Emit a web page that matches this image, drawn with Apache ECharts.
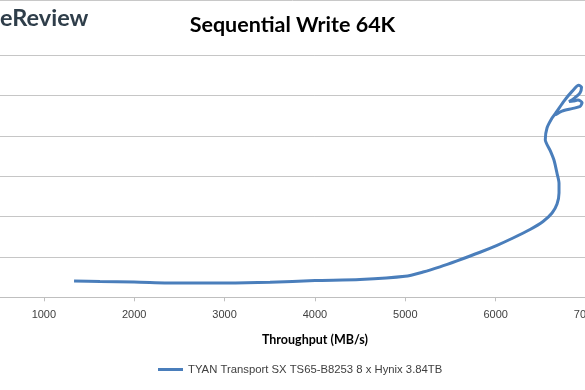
<!DOCTYPE html>
<html>
<head>
<meta charset="utf-8">
<script src="https://cdn.jsdelivr.net/npm/echarts@6/dist/echarts.min.js"></script>
<style>
html,body{margin:0;padding:0;background:#fff;overflow:hidden;width:585px;height:390px;}
#c{position:absolute;left:-100px;top:0;width:800px;height:390px;}
</style>
</head>
<body>
<div id="c"></div>
<script>
// Data (y labels are cropped in the reference)
const seriesName = 'TYAN Transport SX TS65-B8253 8 x Hynix 3.84TB';
const throughput = [1334, 1621, 1998, 2507, 3005, 3503, 4001, 4499, 4997, 5196, 5384, 5572, 5827, 6015, 6192, 6380, 6524, 6624, 6679, 6701, 6701, 6679, 6645, 6601, 6549, 6568,
                    6624, 6679, 6756, 6845, 6919, 6950, 6933, 6878, 6812, 6856, 6911, 6956, 6933, 6845, 6734, 6657];
const latency    = [0.403, 0.391, 0.379, 0.354, 0.354, 0.371, 0.416, 0.441, 0.520, 0.626, 0.755, 0.903, 1.116, 1.287, 1.468, 1.678, 1.876, 2.087, 2.309, 2.582, 2.822, 3.069, 3.399, 3.646, 3.901, 4.191,
                    4.438, 4.611, 4.859, 5.099, 5.248, 5.205, 5.057, 4.946, 4.847, 4.859, 4.884, 4.822, 4.723, 4.673, 4.611, 4.512];
const xTicks = [0, 1000, 2000, 3000, 4000, 5000, 6000, 7000, 8000];

const OFF = 100; // container is shifted 100px left of the viewport
const chart = echarts.init(document.getElementById('c'), null, {renderer: 'canvas'});
chart.setOption({
  animation: false,
  backgroundColor: '#ffffff',
  graphic: [
    {type: 'text', x: OFF + 292.5, y: 25, style: {text: 'Sequential Write 64K', fontFamily: 'Lato', fontWeight: 'bold', fontSize: 21.5, fill: '#000', align: 'center', verticalAlign: 'middle'}},
    {type: 'text', x: OFF + 0, y: 18.5, style: {text: 'eReview', fontFamily: 'Lato', fontWeight: 'bold', fontSize: 23.5, fill: '#2f3e4a', align: 'left', verticalAlign: 'middle'}},
    {type: 'line', shape: {x1: OFF, y1: 0.5, x2: OFF + 585, y2: 0.5}, style: {stroke: '#c8c8c8', lineWidth: 1}}
  ],
  legend: {
    top: 359, left: OFF + 153,
    itemWidth: 25, itemHeight: 3, itemGap: 4,
    icon: 'rect',
    textStyle: {fontFamily: 'Liberation Sans', fontSize: 11.3, color: '#404040'},
    data: [seriesName]
  },
  grid: {left: 53.5, right: 23.6, top: 55, bottom: 92.7, containLabel: false},
  xAxis: {
    type: 'value', min: 0, max: 8000, interval: 1000,
    name: 'Throughput (MB/s)', nameLocation: 'middle', nameGap: 36,
    nameTextStyle: {fontFamily: 'Lato', fontWeight: 'bold', fontSize: 12.5, color: '#000'},
    axisLine: {lineStyle: {color: '#bfbfbf', width: 1}},
    axisTick: {show: true, length: 4, lineStyle: {color: '#bfbfbf'}},
    axisLabel: {fontFamily: 'Liberation Sans', fontSize: 11, color: '#404040', margin: 12,
      formatter: v => xTicks.includes(v) ? String(v) : ''},
    splitLine: {show: false}
  },
  yAxis: {
    type: 'value', min: 0, max: 6, interval: 1,
    axisLine: {show: false}, axisTick: {show: false},
    axisLabel: {show: true, fontSize: 11, color: '#404040'},
    splitLine: {lineStyle: {color: '#c6c6c6', width: 1}}
  },
  series: [{
    name: seriesName,
    type: 'line',
    data: throughput.map((x, i) => [x, latency[i]]),
    smooth: 0.25,
    showSymbol: false,
    lineStyle: {color: '#4a7ebb', width: 3},
    itemStyle: {color: '#4a7ebb'}
  }]
});
</script>
</body>
</html>
